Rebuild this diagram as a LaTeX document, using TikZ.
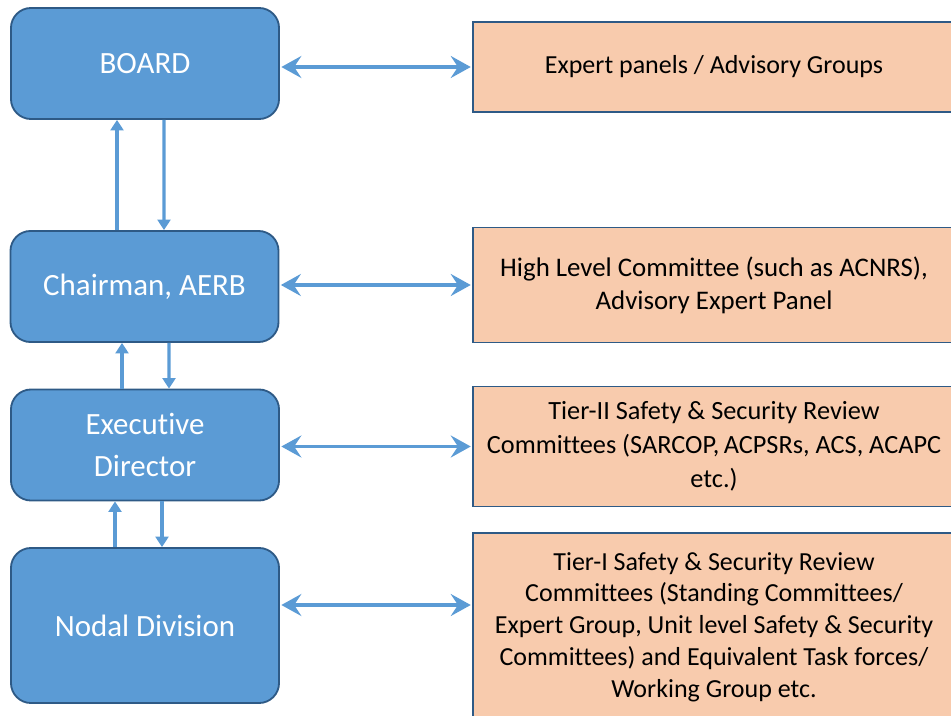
\documentclass[tikz,border=0pt]{standalone}
\usepackage{fontspec}
\setmainfont[Ligatures={NoCommon}]{Carlito}
\usepackage{tikz}
\usetikzlibrary{arrows.meta,positioning,calc}
\definecolor{boxblue}{HTML}{5B9BD5}
\definecolor{edgeblue}{HTML}{2E5A86}
\definecolor{boxpeach}{HTML}{F8CBAD}
\begin{document}
\begin{tikzpicture}
[x=0.025cm,y=-0.025cm,
 lb/.style={draw=edgeblue,line width=1.3pt,fill=boxblue,rounded corners=0.5cm,
   minimum width=6.7cm,align=center,text=white,
   font=\fontsize{22}{30}\selectfont},
 rb/.style={draw=edgeblue,line width=1.1pt,fill=boxpeach,minimum width=12.05cm,
   align=center,font=\fontsize{18.5}{22.6}\selectfont},
 both/.style={boxblue,line width=2.2pt,{Stealth[length=0.5cm,width=0.55cm,inset=0.18cm]}-{Stealth[length=0.5cm,width=0.55cm,inset=0.18cm]},shorten <=1pt,shorten >=1pt},
 vert/.style={boxblue,line width=2.3pt,-{Triangle[length=0.26cm,width=0.32cm]}}]
\useasboundingbox (0,0) rectangle (951,715);
% left column
\node[lb,minimum height=2.775cm] (board) at (145,63.5) {BOARD};
\node[lb,minimum height=2.775cm] (chair) at (144.5,286.5) {Chairman, AERB};
\node[lb,minimum height=2.775cm] (exec) at (145,445) {Executive\\Director};
\node[lb,minimum height=3.875cm] (nodal) at (145,625.5) {Nodal Division};
% right column
\node[rb,minimum height=2.25cm] (expert) at (714,67) {Expert panels / Advisory Groups};
\node[rb,minimum height=2.875cm,font=\fontsize{19.1}{23.5}\selectfont] (high) at (714,285) {High Level Committee (such as ACNRS),\\Advisory Expert Panel};
\node[rb,minimum height=3cm,font=\fontsize{18.7}{24}\selectfont] (tier2) at (714,446.5) {Tier-II Safety \& Security Review\\Committees (SARCOP,\,ACPSRs, ACS, ACAPC\\etc.)};
\node[rb,minimum height=4.7cm] (tier1) at (714,627) {Tier-I Safety \& Security Review\\Committees (Standing Committees/\\Expert Group, Unit level Safety \& Security\\Committees) and Equivalent Task forces/\\Working Group etc.};
% side links
\draw[both] (board.east |- expert) -- (expert.west);
\draw[both] (chair.east |- high) -- (high.west);
\draw[both] (exec.east |- tier2) -- (tier2.west);
\draw[both] (nodal.east |- 0,605) -- (tier1.west |- 0,605);
% up and down links
\draw[vert] ($(chair.north)+(-27.5,0)$) -- ($(board.south)+(-28,0)$);
\draw[vert] ($(board.south)+(19,0)$) -- ($(chair.north)+(19.5,0)$);
\draw[vert] ($(exec.north)+(-23,0)$) -- ($(chair.south)+(-22.5,0)$);
\draw[vert] ($(chair.south)+(24.5,0)$) -- ($(exec.north)+(24,0)$);
\draw[vert] ($(nodal.north)+(-30,0)$) -- ($(exec.south)+(-30,0)$);
\draw[vert] ($(exec.south)+(17,0)$) -- ($(nodal.north)+(17,0)$);
\end{tikzpicture}
\end{document}
